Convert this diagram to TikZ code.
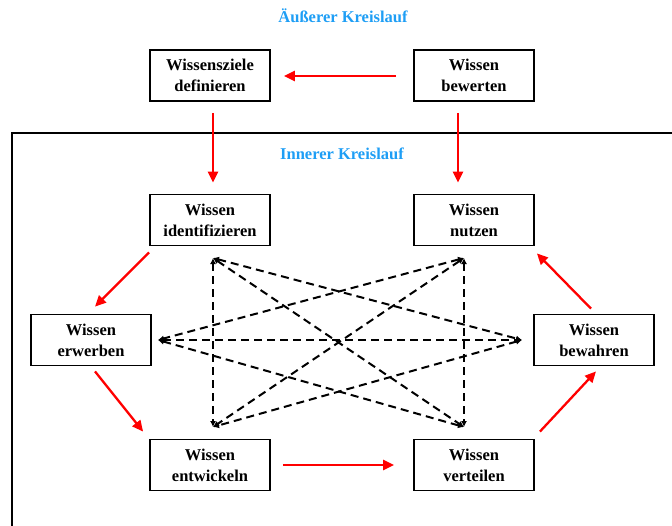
\documentclass[tikz,border=0pt]{standalone}
\usepackage{fontspec}
\setmainfont{Liberation Serif}
\usetikzlibrary{arrows.meta}
\definecolor{kblue}{RGB}{30,158,245}
\begin{document}
\begin{tikzpicture}[x=1pt,y=-1pt,
  box/.style={draw=black,line width=1.8pt,minimum width=120pt,minimum height=51pt,
    align=center,inner sep=0pt,font=\fontsize{16.5}{21}\selectfont\bfseries},
  title/.style={text=kblue,font=\fontsize{16.5}{19}\selectfont\bfseries},
  redarrow/.style={draw=red,line width=2.3pt,-{Triangle[length=11pt,width=10pt]}},
  dasharrow/.style={draw=black,line width=2pt,dash pattern=on 8pt off 5pt,
    {Latex[length=6pt,width=6pt]}-{Latex[length=6pt,width=6pt]}}]
\useasboundingbox (0,0) rectangle (672,525);
% frame
\draw[line width=1.8pt] (12,526) -- (12,133) -- (673,133);
% titles
\node[title] (outer) at (343,16) {Äußerer Kreislauf};
\node[title] (inner) at (342,154) {Innerer Kreislauf};
% boxes
\node[box] (ziele) at (210,75.5) {Wissensziele\\definieren};
\node[box] (bewerten) at (474,75.5) {Wissen\\bewerten};
\node[box] (ident) at (210,220) {Wissen\\identifizieren};
\node[box] (nutzen) at (474,220) {Wissen\\nutzen};
\node[box] (erwerben) at (91,340) {Wissen\\erwerben};
\node[box] (bewahren) at (594,340) {Wissen\\bewahren};
\node[box] (entw) at (210,465) {Wissen\\entwickeln};
\node[box] (vert) at (474,465) {Wissen\\verteilen};
% red arrows
\draw[redarrow,shorten <=17pt,shorten >=13pt] ([yshift=-0.5pt]bewerten.west) -- ([yshift=-0.5pt]ziele.east);
\draw[redarrow,shorten <=11pt,shorten >=11pt] ([xshift=3pt]ziele.south) -- ([xshift=3pt]ident.north);
\draw[redarrow,shorten <=11pt,shorten >=11pt] ([xshift=-16pt]bewerten.south) -- ([xshift=-16pt]nutzen.north);
\draw[redarrow] ([yshift=-6pt]ident.south west) -- ([xshift=4pt,yshift=7pt]erwerben.north);
\draw[redarrow] ([xshift=4pt,yshift=-5pt]erwerben.south) -- ([xshift=-6pt,yshift=7pt]entw.north west);
\draw[redarrow,shorten <=12pt,shorten >=19pt] (entw.east) -- (vert.west);
\draw[redarrow] ([xshift=5pt,yshift=7pt]vert.north east) -- ([xshift=2pt,yshift=-5pt]bewahren.south);
\draw[redarrow] ([xshift=-3pt,yshift=5pt]bewahren.north) -- ([xshift=2pt,yshift=-7pt]nutzen.south east);
% dashed network
\coordinate (TL) at (213,258);
\coordinate (TR) at (464,258);
\coordinate (L) at (158,340);
\coordinate (R) at (522,340);
\coordinate (BL) at (213,427);
\coordinate (BR) at (464,427);
\draw[dasharrow] (TL) -- (BL);
\draw[dasharrow] (TR) -- (BR);
\draw[dasharrow] (L) -- (R);
\draw[dasharrow] (TL) -- (R);
\draw[dasharrow] (TL) -- (BR);
\draw[dasharrow] (TR) -- (L);
\draw[dasharrow] (TR) -- (BL);
\draw[dasharrow] (L) -- (BR);
\draw[dasharrow] (R) -- (BL);
\end{tikzpicture}
\end{document}
